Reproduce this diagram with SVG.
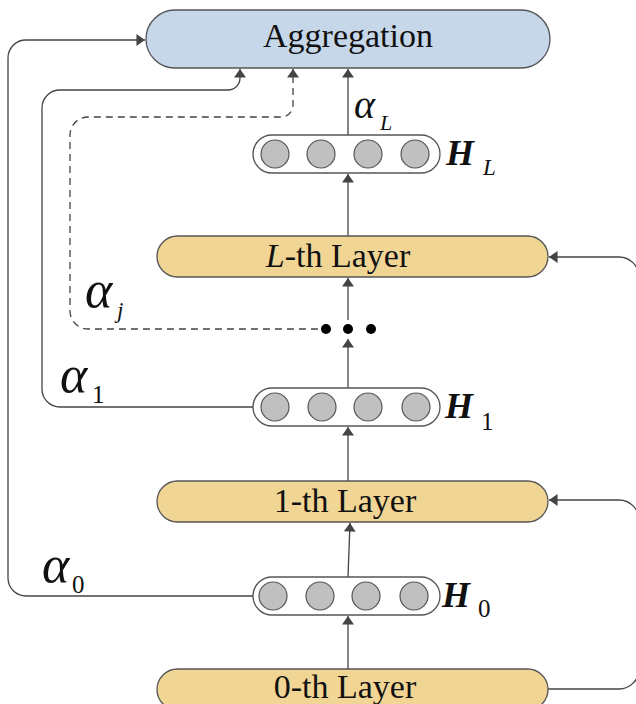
<svg xmlns="http://www.w3.org/2000/svg" width="636" height="704" viewBox="0 0 636 704">
<defs>
<marker id="ahb" viewBox="0 0 10 14" refX="10" refY="7" markerWidth="11" markerHeight="12" markerUnits="userSpaceOnUse" orient="auto">
<path d="M0,0 L10,7 L0,14 z" fill="#444"/>
</marker>
</defs>
<style>
text{font-family:'Liberation Serif','Times New Roman',serif;fill:#111}
.agg{fill:#c5d7e8;stroke:#555;stroke-width:1.3}
.lay{fill:#f1d595;stroke:#555;stroke-width:1.3}
.hb{fill:#fff;stroke:#555;stroke-width:1.3}
.c{fill:#c0c0c0;stroke:#555;stroke-width:1.2}
.t{font-size:34px;text-anchor:middle}
.al{font-style:italic;font-size:52px}
.hl{font-style:italic;font-weight:bold;font-size:36px}
.sub{font-size:25px}
.si{font-size:23px;font-style:italic}
.ln{fill:none;stroke:#444;stroke-width:1.3}
.dash{stroke-dasharray:7,5}
</style>

<g id="connectors">
<path class="ln" d="M348,669 V616" marker-end="url(#ahb)"/>
<path class="ln" d="M348,577 L350,523" marker-end="url(#ahb)"/>
<path class="ln" d="M348,481 V427" marker-end="url(#ahb)"/>
<path class="ln" d="M348,388 V339" marker-end="url(#ahb)"/>
<path class="ln" d="M348,320 V278" marker-end="url(#ahb)"/>
<path class="ln" d="M348,236 V174" marker-end="url(#ahb)"/>
<path class="ln" d="M348,135 V69" marker-end="url(#ahb)"/>
<path class="ln" d="M253,596 H26 A18,18 0 0 1 8,578 V58 A18,18 0 0 1 26,40 H145" marker-end="url(#ahb)"/>
<path class="ln" d="M253,407 H60 A18,18 0 0 1 42,389 V108 A18,18 0 0 1 60,90 H228 A12,12 0 0 0 240,78 V69" marker-end="url(#ahb)"/>
<path class="ln dash" d="M318,329 H88 A18,18 0 0 1 70,311 V135 A18,18 0 0 1 88,117 H281 A12,12 0 0 0 293,105 V69" marker-end="url(#ahb)"/>
<path class="ln" d="M548,689 H619 A20,20 0 0 0 639,669 V277 A20,20 0 0 0 619,257 H549" marker-end="url(#ahb)"/>
<path class="ln" d="M639,520 A20,20 0 0 0 619,500 H549" marker-end="url(#ahb)"/>
</g>

<g id="aggregation">
<rect class="agg" x="146" y="10" width="404" height="58" rx="29"/>
<text class="t" x="348" y="47">Aggregation</text>
</g>

<g id="HL">
<rect class="hb" x="253" y="135" width="187" height="38" rx="19"/>
<circle class="c" cx="275" cy="154" r="14"/>
<circle class="c" cx="321" cy="154" r="14"/>
<circle class="c" cx="368" cy="154" r="14"/>
<circle class="c" cx="415" cy="154" r="14"/>
<text class="hl" x="446" y="165">H</text>
<text class="si" x="483" y="175">L</text>
</g>

<g id="Llayer">
<rect class="lay" x="157" y="236" width="391" height="41" rx="20.5"/>
<text class="t" x="338" y="267"><tspan font-style="italic">L</tspan>-th Layer</text>
</g>

<g id="dots">
<circle cx="326" cy="329" r="5" fill="#000"/>
<circle cx="348" cy="329" r="5" fill="#000"/>
<circle cx="371" cy="329" r="5" fill="#000"/>
</g>

<g id="H1">
<rect class="hb" x="253" y="388" width="187" height="38" rx="19"/>
<circle class="c" cx="275" cy="407" r="14"/>
<circle class="c" cx="322" cy="407" r="14"/>
<circle class="c" cx="368" cy="407" r="14"/>
<circle class="c" cx="416" cy="407" r="14"/>
<text class="hl" x="445" y="418">H</text>
<text class="sub" x="481" y="430">1</text>
</g>

<g id="layer1">
<rect class="lay" x="157" y="481" width="391" height="41" rx="20.5"/>
<text class="t" x="345" y="512">1-th Layer</text>
</g>

<g id="H0">
<rect class="hb" x="253" y="577" width="187" height="38" rx="19"/>
<circle class="c" cx="273" cy="596" r="14"/>
<circle class="c" cx="320" cy="596" r="14"/>
<circle class="c" cx="366" cy="596" r="14"/>
<circle class="c" cx="414" cy="596" r="14"/>
<text class="hl" x="442" y="607">H</text>
<text class="sub" x="478" y="617">0</text>
</g>

<g id="layer0">
<rect class="lay" x="157" y="669" width="391" height="41" rx="20.5"/>
<text class="t" x="345" y="698">0-th Layer</text>
</g>

<g id="labels">
<text class="al" x="354" y="118" style="font-size:40px">α</text>
<text class="si" x="380" y="130" style="font-size:22px">L</text>
<text class="al" x="85" y="307">α</text>
<text class="si" x="117" y="318">j</text>
<text class="al" x="60" y="392">α</text>
<text class="sub" x="92" y="403">1</text>
<text class="al" x="42" y="582">α</text>
<text class="sub" x="72" y="593">0</text>
</g>
</svg>
